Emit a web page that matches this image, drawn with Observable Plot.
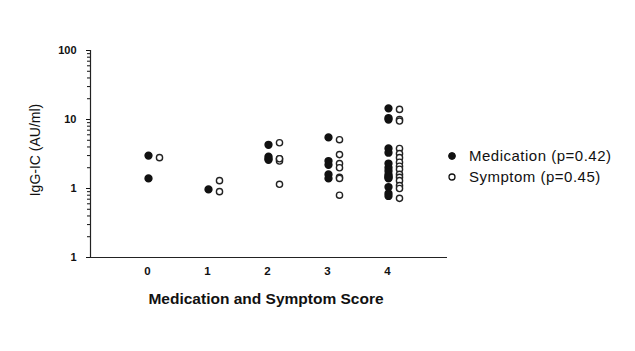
<!DOCTYPE html>
<html><head><meta charset="utf-8">
<script src="https://cdn.jsdelivr.net/npm/d3@7"></script>
<script src="https://cdn.jsdelivr.net/npm/@observablehq/plot@0.6"></script>
<style>
body{margin:0;background:#fff;font-family:"Liberation Sans",Arial,sans-serif;}
#wrap{position:relative;width:635px;height:351px;overflow:hidden}
#legend{position:absolute;left:446px;top:145px;font-size:15px;letter-spacing:0.5px;color:#111;line-height:21px}
#legend div{display:flex;align-items:center;white-space:nowrap}
#legend svg{margin-right:11px}
#xtitle{position:absolute;left:266px;top:299px;transform:translate(-50%,-50%);font-size:15.5px;font-weight:bold;color:#111;white-space:nowrap}
#ytitle{position:absolute;left:35px;top:150px;transform:translate(-50%,-50%) rotate(-90deg);font-size:14px;color:#111;white-space:nowrap}
</style></head>
<body><div id="wrap"><div id="chart"></div><div id="legend"></div>
<div id="xtitle">Medication and Symptom Score</div>
<div id="ytitle">IgG-IC (AU/ml)</div></div>
<script>
const scores = [0, 1, 2, 3, 4];
const yTickValues = [0.1, 1, 10, 100];
const yTickLabels = ["1", "1", "10", "100"];
const medicationScores = [0,0, 1, 2,2,2,2, 3,3,3,3,3, 4,4,4,4,4,4,4,4,4,4,4,4,4,4,4];
const medicationValues = [3.0,1.4, 0.97, 4.3,2.9,2.7,2.6, 5.5,2.5,2.2,1.6,1.4, 14.5,10.5,10,3.8,3.3,2.3,2.0,1.8,1.6,1.5,1.45,1.4,1.05,0.85,0.78];
const symptomScores = [0, 1,1, 2,2,2,2,2, 3,3,3,3,3,3,3, 4,4,4,4,4,4,4,4,4,4,4,4,4,4,4];
const symptomValues = [2.8, 1.3,0.9, 4.6,2.7,2.5,2.7,1.15, 5.1,3.1,2.3,2.0,1.45,1.4,0.8, 14,10,9.5,3.8,3.2,2.8,2.4,2.1,1.9,1.6,1.45,1.3,1.1,1.0,0.72];
const legendLabels = ["Medication (p=0.42)", "Symptom (p=0.45)"];

const med = medicationScores.map((s, i) => ({score: s, value: medicationValues[i]}));
const sym = symptomScores.map((s, i) => ({score: s, value: symptomValues[i]}));
const labelMap = new Map(yTickValues.map((v, i) => [v, yTickLabels[i]]));
const minorTicks = [];
for (const d of [0.1, 1, 10]) for (let k = 2; k <= 9; k++) minorTicks.push(+(d * k).toPrecision(3));

const chart = Plot.plot({
  width: 635, height: 351,
  marginLeft: 90, marginRight: 188, marginTop: 50, marginBottom: 94,
  style: {fontFamily: '"Liberation Sans", Arial, sans-serif', background: "#fff", color: "#111"},
  x: {domain: [-0.95, 5.0]},
  y: {type: "log", domain: [0.1, 100]},
  marks: [
    Plot.axisX({ticks: scores, tickFormat: d => String(d), tickSize: 0, tickPadding: 9, fontSize: 11.5, fontWeight: "bold", label: null}),
    Plot.axisY({ticks: minorTicks, tickFormat: () => "", tickSize: 3, label: null}),
    Plot.axisY({ticks: yTickValues, tickFormat: d => labelMap.get(d) ?? "", tickSize: 4, tickPadding: 10, fontSize: 11, fontWeight: "bold", label: null}),
    Plot.ruleX([-0.95], {stroke: "#222", strokeWidth: 1.2}),
    Plot.ruleY([0.1], {stroke: "#222", strokeWidth: 1.2}),
    Plot.dot(med, {x: "score", y: "value", r: 3.4, fill: "#111", stroke: "#111", dx: 1}),
    Plot.dot(sym, {x: "score", y: "value", r: 3.1, fill: "#fff", stroke: "#222", strokeWidth: 1.4, dx: 12})
  ]
});
document.getElementById("chart").appendChild(chart);

const legend = document.getElementById("legend");
legendLabels.forEach((lab, i) => {
  const row = document.createElement("div");
  row.innerHTML = `<svg width="12" height="12"><circle cx="6" cy="6" r="${i ? 3 : 3.4}" fill="${i ? '#fff' : '#111'}" stroke="#111" stroke-width="${i ? 1.3 : 1}"/></svg><span>${lab}</span>`;
  legend.appendChild(row);
});
</script></body></html>
